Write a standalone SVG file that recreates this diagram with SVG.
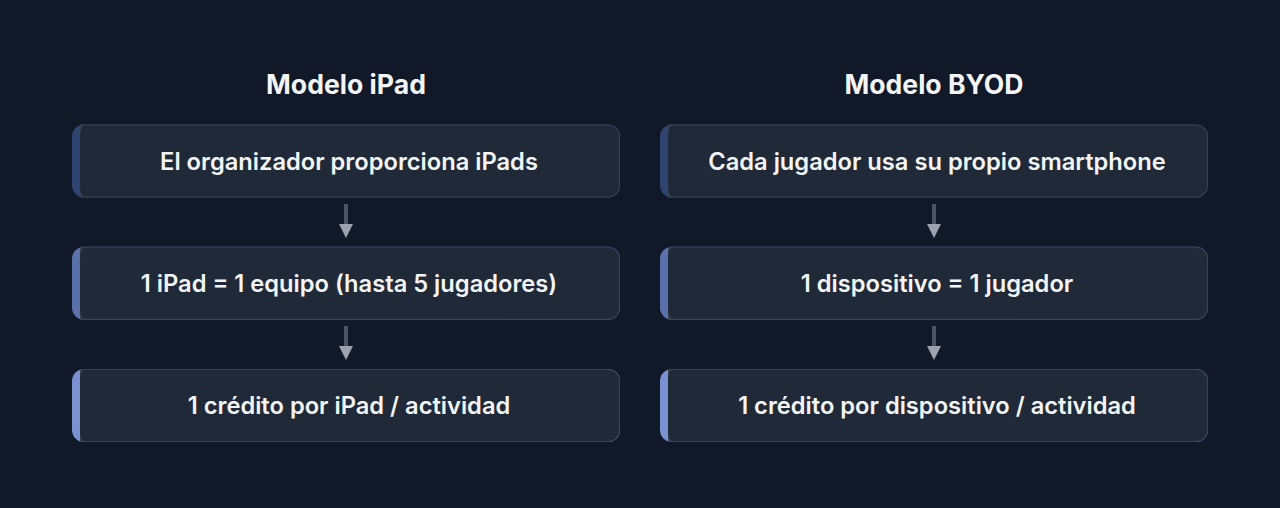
<svg xmlns="http://www.w3.org/2000/svg" xmlns:xlink="http://www.w3.org/1999/xlink" width="1280" height="508" viewBox="0 0 1280 508">
<style>
.title{font-family:Inter,"Liberation Sans",sans-serif;font-weight:700;font-size:26.6px;fill:#f3f4f6;text-anchor:middle}
.label{font-family:Inter,"Liberation Sans",sans-serif;font-weight:600;font-size:23.7px;fill:#f3f4f6;text-anchor:middle}
.shaft{fill:#4b5563}
.head{fill:#9ca3af}
</style>
<defs>
<g id="card">
<rect x="0" y="0" width="548" height="73" rx="12" ry="12" fill="currentColor"/>
<path d="M8,0 H536 A12 12 0 0 1 548,12 V61 A12 12 0 0 1 536,73 H8 Z" fill="#374151"/>
<path d="M12,1 H536 A11 11 0 0 1 547,12 V61 A11 11 0 0 1 536,72 H12 A4 11 0 0 1 8,61 V12 A4 11 0 0 1 12,1 Z" fill="#1f2937"/>
</g>
<g id="arrow">
<rect x="-2" y="0" width="4" height="21" class="shaft"/>
<path d="M-7,20 H7 L0,34 Z" class="head"/>
</g>
</defs>
<rect width="1280" height="508" fill="#111827"/>
<g id="title-ipad"><text class="title" x="346" y="94">Modelo iPad</text></g>
<g id="title-byod"><text class="title" x="934" y="94">Modelo BYOD</text></g>
<g id="connectors">
<use href="#arrow" x="346" y="204"/>
<use href="#arrow" x="346" y="326"/>
<use href="#arrow" x="934" y="204"/>
<use href="#arrow" x="934" y="326"/>
</g>
<g id="ipad-1"><use href="#card" x="72" y="124.5" color="#2f4470"/><text class="label" x="349" y="169.5">El organizador proporciona iPads</text></g>
<g id="ipad-2"><use href="#card" x="72" y="246.7" color="#5a70aa"/><text class="label" x="349" y="291.7">1 iPad = 1 equipo (hasta 5 jugadores)</text></g>
<g id="ipad-3"><use href="#card" x="72" y="369" color="#7a91d2"/><text class="label" x="349" y="414">1 crédito por iPad / actividad</text></g>
<g id="byod-1"><use href="#card" x="660" y="124.5" color="#2f4470"/><text class="label" x="937" y="169.5">Cada jugador usa su propio smartphone</text></g>
<g id="byod-2"><use href="#card" x="660" y="246.7" color="#5a70aa"/><text class="label" x="937" y="291.7">1 dispositivo = 1 jugador</text></g>
<g id="byod-3"><use href="#card" x="660" y="369" color="#7a91d2"/><text class="label" x="937" y="414">1 crédito por dispositivo / actividad</text></g>
</svg>
